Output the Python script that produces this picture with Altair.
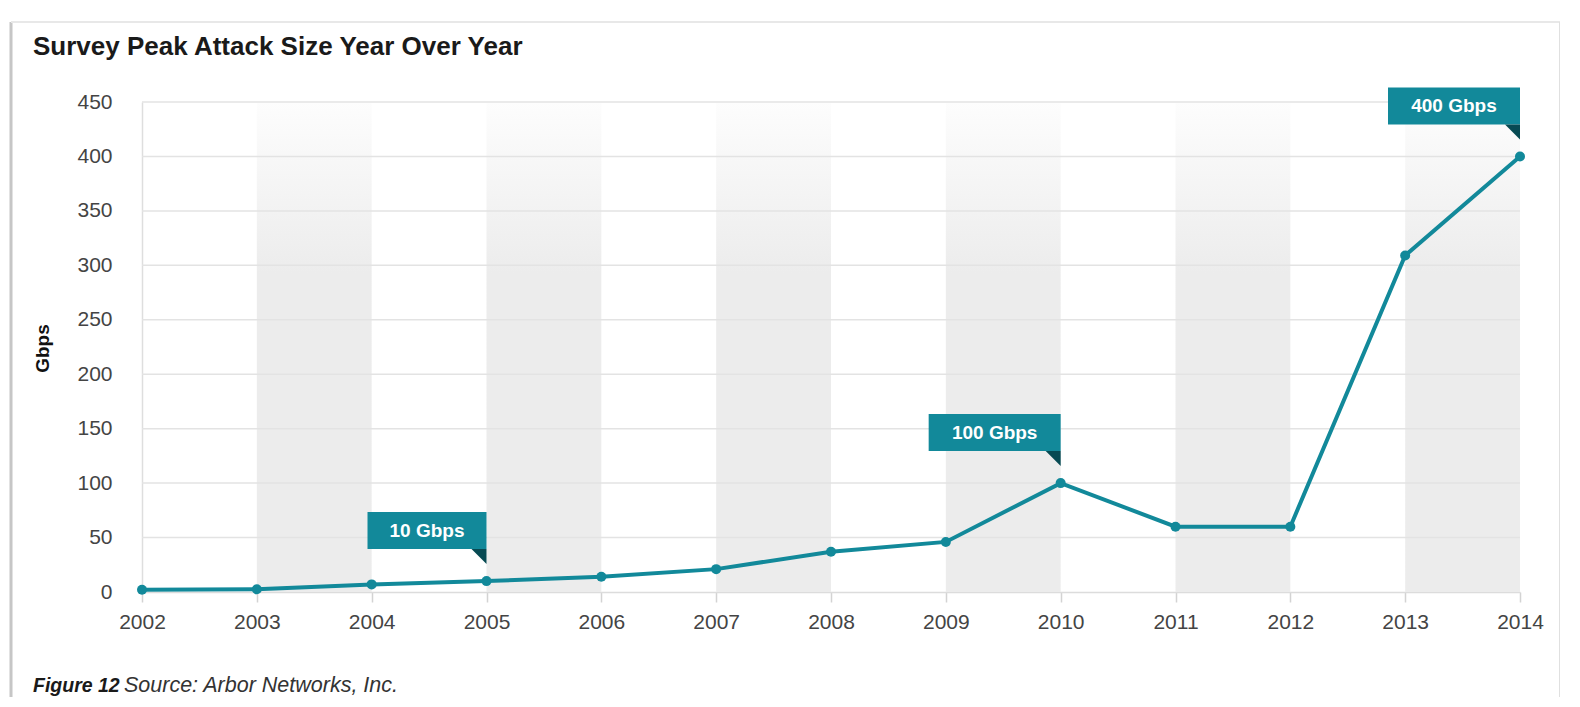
import altair as alt
import pandas as pd

# ---------------- data ----------------
years = [2002, 2003, 2004, 2005, 2006, 2007, 2008, 2009, 2010, 2011, 2012, 2013, 2014]
gbps = [2, 2.5, 7, 10, 14, 21, 37, 46, 100, 60, 60, 309, 400]
band_starts = [2003, 2005, 2007, 2009, 2011, 2013]
y_ticks = [0, 50, 100, 150, 200, 250, 300, 350, 400, 450]
callout_years = [2005, 2010, 2014]
callout_labels = ["10 Gbps", "100 Gbps", "400 Gbps"]
title_text = "Survey Peak Attack Size Year Over Year"
footer_bold = "Figure 12"
footer_rest = "Source: Arbor Networks, Inc."
y_title = "Gbps"

# ---------------- styles ----------------
W, H = 1378, 490
TEAL = "#12899a"
DARK = "#074a53"
FONT = "Liberation Sans"
LABEL_COLOR = "#444444"

df = pd.DataFrame({"year": years, "gbps": gbps})
bands = pd.DataFrame({"start": band_starts, "end": [s + 1 for s in band_starts]})
grid = pd.DataFrame({"v": y_ticks[1:]})
callouts = pd.DataFrame({
    "year": callout_years,
    "label": callout_labels,
    "gbps": [gbps[years.index(y)] for y in callout_years],
})

xscale = alt.Scale(domain=[years[0], years[-1]], nice=False, zero=False)
yscale = alt.Scale(domain=[y_ticks[0], y_ticks[-1]], nice=False)

x_axis = alt.Axis(title=None, values=years, format="d", grid=False,
                  labelFont=FONT, labelFontSize=21, labelColor=LABEL_COLOR,
                  labelPadding=9, tickSize=10, tickColor="#d3d3d3", tickWidth=1.5,
                  domainColor="#dcdcdc", domainWidth=1.5, labelFlush=False)
y_axis = alt.Axis(title=y_title, values=y_ticks, grid=False, ticks=False,
                  labelFont=FONT, labelFontSize=21, labelColor=LABEL_COLOR,
                  labelPadding=30, domainColor="#dedede", domainWidth=1.5,
                  titleFont=FONT, titleFontSize=19, titleFontWeight="bold",
                  titleColor="#111111", titleX=-100, titleY=246,
                  titleAlign="center", titleBaseline="middle", titleAngle=270)


def X(field):
    return alt.X(field, scale=xscale, axis=x_axis)


def Y(field):
    return alt.Y(field, scale=yscale, axis=y_axis)


band_fill = alt.Gradient(
    gradient="linear",
    stops=[alt.GradientStop(color="#fdfdfd", offset=0),
           alt.GradientStop(color="#ececec", offset=0.35),
           alt.GradientStop(color="#ececec", offset=1)],
    x1=0, x2=0, y1=0, y2=1,
)

band_layer = alt.Chart(bands).mark_rect(color=band_fill).encode(
    x=X("start:Q"), x2="end:Q", y=alt.value(0), y2=alt.value(H),
)

grid_layer = alt.Chart(grid).mark_rule(color="#e3e3e3", strokeWidth=1.5).encode(
    y=Y("v:Q"),
)

line_layer = alt.Chart(df).mark_line(color=TEAL, strokeWidth=4).encode(
    x=X("year:Q"), y=Y("gbps:Q"),
)
point_layer = alt.Chart(df).mark_point(filled=True, size=100, color=TEAL, opacity=1).encode(
    x=X("year:Q"), y=Y("gbps:Q"),
)

callout_layers = []
for i in range(len(callouts)):
    row = callouts.iloc[[i]]
    w = 13 * len(row["label"].iloc[0]) + 28
    enc = dict(x=X("year:Q"), y=Y("gbps:Q"))
    box = alt.Chart(row).mark_rect(color=TEAL, xOffset=-w, x2Offset=0,
                                   yOffset=-69, y2Offset=-32).encode(
        x2="year:Q", y2="gbps:Q", **enc)
    txt = alt.Chart(row).mark_text(color="white", font=FONT, fontWeight="bold",
                                   fontSize=19, align="center", baseline="middle",
                                   dx=-w / 2, dy=-50).encode(text="label:N", **enc)
    tri = alt.Chart(row).mark_point(shape="M -1 -1 L 1 -1 L 1 1 Z", size=225,
                                    filled=True, color=DARK, opacity=1, strokeWidth=0,
                                    xOffset=-7.5, yOffset=-24.5).encode(**enc)
    callout_layers += [box, tri, txt]

title_layer = alt.Chart(alt.Data(values=[{"t": title_text}])).mark_text(
    align="left", baseline="alphabetic", font=FONT, fontSize=26, fontWeight="bold",
    color="#1a1a1a").encode(x=alt.value(-109), y=alt.value(-47), text="t:N")

footer1 = alt.Chart(alt.Data(values=[{"t": footer_bold}])).mark_text(
    align="left", baseline="alphabetic", font=FONT, fontSize=19.5, fontWeight="bold",
    fontStyle="italic", color="#1a1a1a").encode(x=alt.value(-109), y=alt.value(590), text="t:N")
footer2 = alt.Chart(alt.Data(values=[{"t": footer_rest}])).mark_text(
    align="left", baseline="alphabetic", font=FONT, fontSize=21.5,
    fontStyle="italic", color="#333333").encode(x=alt.value(-18), y=alt.value(590), text="t:N")

frame_data = alt.Data(values=[{"k": 1}])
frame_left = alt.Chart(frame_data).mark_rule(color="#c6c6c6", strokeWidth=3).encode(
    x=alt.value(-131), y=alt.value(-80), y2=alt.value(620))
frame_top = alt.Chart(frame_data).mark_rule(color="#e8e8e8", strokeWidth=2).encode(
    x=alt.value(-131), x2=alt.value(1418), y=alt.value(-80))
frame_right = alt.Chart(frame_data).mark_rule(color="#e0e0e0", strokeWidth=2).encode(
    x=alt.value(1418), y=alt.value(-80), y2=alt.value(620))

chart = alt.layer(
    band_layer, grid_layer, line_layer, point_layer, *callout_layers,
    title_layer, footer1, footer2, frame_left, frame_top, frame_right,
).properties(
    width=W, height=H,
    autosize=alt.AutoSizeParams(type="none"),
    padding={"left": 134, "top": 94, "right": 40, "bottom": 105},
    background="white",
).configure_view(strokeWidth=0)

chart.save("out.html", embed_options={"renderer": "svg", "actions": False})
